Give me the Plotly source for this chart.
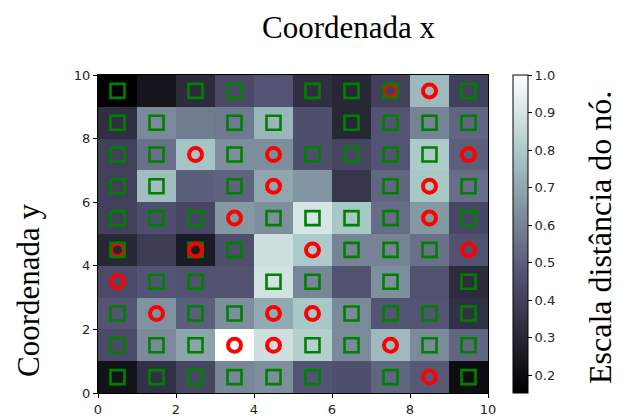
import plotly.graph_objects as go

# U-matrix (node distance map) of a 10x10 SOM; rows are y = 0..9 (bottom to top), columns x = 0..9
dist_row0 = [0.22, 0.34, 0.42, 0.61, 0.63, 0.47, 0.45, 0.52, 0.48, 0.20]
dist_row1 = [0.44, 0.62, 0.69, 1.00, 0.88, 0.82, 0.62, 0.75, 0.62, 0.52]
dist_row2 = [0.47, 0.64, 0.50, 0.63, 0.71, 0.79, 0.62, 0.47, 0.47, 0.34]
dist_row3 = [0.44, 0.47, 0.46, 0.46, 0.89, 0.61, 0.46, 0.63, 0.46, 0.32]
dist_row4 = [0.30, 0.38, 0.26, 0.45, 0.88, 0.80, 0.60, 0.60, 0.55, 0.46]
dist_row5 = [0.40, 0.45, 0.42, 0.66, 0.63, 0.90, 0.79, 0.54, 0.66, 0.42]
dist_row6 = [0.40, 0.76, 0.50, 0.51, 0.70, 0.65, 0.36, 0.52, 0.79, 0.54]
dist_row7 = [0.40, 0.55, 0.78, 0.63, 0.63, 0.45, 0.42, 0.47, 0.80, 0.50]
dist_row8 = [0.33, 0.62, 0.58, 0.57, 0.74, 0.45, 0.30, 0.47, 0.60, 0.52]
dist_row9 = [0.152, 0.23, 0.32, 0.43, 0.47, 0.33, 0.30, 0.40, 0.75, 0.40]
dist_map = [dist_row0, dist_row1, dist_row2, dist_row3, dist_row4,
            dist_row5, dist_row6, dist_row7, dist_row8, dist_row9]

node_x = [0.5, 1.5, 2.5, 3.5, 4.5, 5.5, 6.5, 7.5, 8.5, 9.5]
node_y = [0.5, 1.5, 2.5, 3.5, 4.5, 5.5, 6.5, 7.5, 8.5, 9.5]

# Winning nodes (column, row) for each class
circle_nodes = [(7, 9), (8, 9),
                (2, 7), (4, 7), (9, 7),
                (4, 6), (8, 6),
                (3, 5), (8, 5),
                (0, 4), (5, 4), (9, 4),
                (0, 3),
                (1, 2), (4, 2), (5, 2),
                (3, 1), (4, 1), (7, 1),
                (8, 0)]
circle_nodes_front = [(2, 4)]  # drawn after the squares

square_nodes = [(0, 9), (2, 9), (3, 9), (5, 9), (6, 9), (7, 9), (9, 9),
                (0, 8), (1, 8), (3, 8), (4, 8), (6, 8), (7, 8), (8, 8), (9, 8),
                (0, 7), (1, 7), (3, 7), (5, 7), (6, 7), (7, 7), (8, 7),
                (0, 6), (1, 6), (3, 6), (7, 6), (9, 6),
                (0, 5), (1, 5), (2, 5), (4, 5), (5, 5), (6, 5), (7, 5), (9, 5),
                (0, 4), (2, 4), (3, 4), (6, 4), (7, 4), (8, 4),
                (1, 3), (2, 3), (4, 3), (5, 3), (7, 3), (9, 3),
                (0, 2), (2, 2), (3, 2), (6, 2), (7, 2), (8, 2), (9, 2),
                (0, 1), (1, 1), (2, 1), (5, 1), (6, 1), (8, 1), (9, 1),
                (0, 0), (1, 0), (2, 0), (3, 0), (4, 0), (5, 0), (7, 0), (9, 0)]

colorbar_ticks = [0.2, 0.3, 0.4, 0.5, 0.6, 0.7, 0.8, 0.9, 1.0]
axis_ticks = [0, 2, 4, 6, 8, 10]

# matplotlib "bone" colormap
bone = [[0.0, "rgb(0,0,0)"],
        [0.365079, "rgb(81,81,113)"],
        [0.746032, "rgb(166,198,198)"],
        [1.0, "rgb(255,255,255)"]]

serif = "Liberation Serif, Times New Roman, serif"
sans = "DejaVu Sans, sans-serif"
tick_color = "#262626"


def centers(nodes):
    return [c + 0.5 for c, _ in nodes], [r + 0.5 for _, r in nodes]


fig = go.Figure()

fig.add_trace(go.Heatmap(
    x=node_x, y=node_y, z=dist_map,
    colorscale=bone,
    hoverinfo="skip",
    colorbar=dict(
        x=1.064, xanchor="left", xref="paper",
        y=0.5, yanchor="middle", len=1.0, lenmode="fraction",
        thickness=15, thicknessmode="pixels",
        outlinewidth=1, outlinecolor="black",
        tickmode="array", tickvals=colorbar_ticks,
        ticktext=[f"{v:.1f}" for v in colorbar_ticks],
        ticks="outside", ticklen=4, tickwidth=1, tickcolor="black",
        tickfont=dict(family=sans, size=13, color=tick_color),
        xpad=0, ypad=0,
    ),
))

cx, cy = centers(circle_nodes)
fig.add_trace(go.Scatter(
    x=cx, y=cy, mode="markers", hoverinfo="skip",
    marker=dict(symbol="circle-open", size=13, color="red",
                line=dict(color="red", width=4)),
))

sx, sy = centers(square_nodes)
fig.add_trace(go.Scatter(
    x=sx, y=sy, mode="markers", hoverinfo="skip",
    marker=dict(symbol="square-open", size=14, color="green",
                line=dict(color="green", width=2.6)),
))

fx, fy = centers(circle_nodes_front)
fig.add_trace(go.Scatter(
    x=fx, y=fy, mode="markers", hoverinfo="skip",
    marker=dict(symbol="circle-open", size=13, color="red",
                line=dict(color="red", width=4)),
))

axis_style = dict(
    range=[0, 10], tickmode="array", tickvals=axis_ticks,
    ticks="outside", ticklen=4, tickwidth=1, tickcolor="black",
    tickfont=dict(family=sans, size=13, color=tick_color),
    showgrid=False, zeroline=False,
    showline=True, linecolor="black", linewidth=1, mirror=True,
)

fig.update_layout(
    width=619, height=417,
    margin=dict(l=98, r=131, t=75, b=24, autoexpand=False),
    paper_bgcolor="white", plot_bgcolor="white",
    showlegend=False,
    xaxis=axis_style,
    yaxis=axis_style,
    annotations=[
        dict(text="Coordenada x", xref="paper", yref="paper",
             x=(349 - 98) / 390, y=(393 - 27) / 318,
             xanchor="center", yanchor="middle", showarrow=False,
             font=dict(family=serif, size=31, color="black")),
        dict(text="Coordenada y", xref="paper", yref="paper",
             x=(28 - 98) / 390, y=(393 - 290) / 318, textangle=-90,
             xanchor="center", yanchor="middle", showarrow=False,
             font=dict(family=serif, size=31, color="black")),
        dict(text="Escala distância do nó.", xref="paper", yref="paper",
             x=(600 - 98) / 390, y=(393 - 238) / 318, textangle=-90,
             xanchor="center", yanchor="middle", showarrow=False,
             font=dict(family=serif, size=32, color="black")),
    ],
)

fig.write_html("out.html")
